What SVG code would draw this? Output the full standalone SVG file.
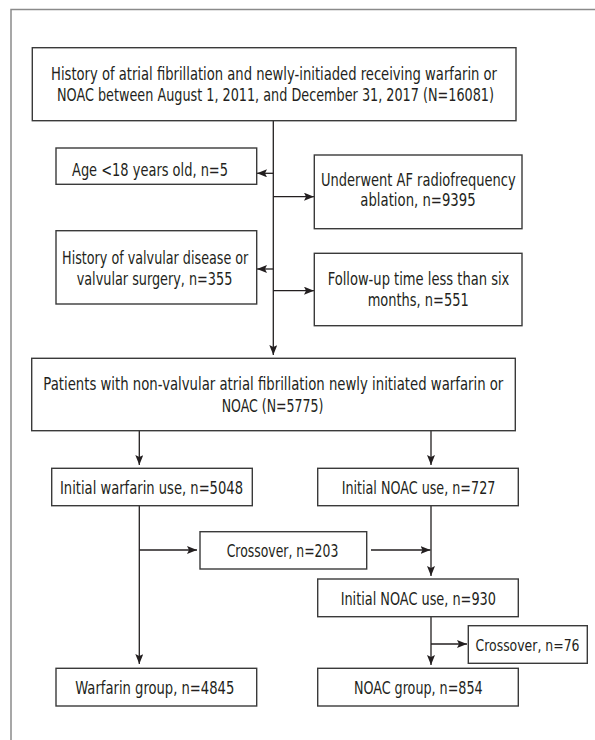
<svg xmlns="http://www.w3.org/2000/svg" width="595" height="740" viewBox="0 0 595 740">
<style>
  .frame { fill: none; stroke: #8a8a8a; stroke-width: 1.5; }
  .box { fill: #ffffff; stroke: #3a3a3a; stroke-width: 1.4; }
  .conn { fill: none; stroke: #231f20; stroke-width: 1.3; marker-end: url(#arrow); }
  text { font-family: "Liberation Sans Narrow", "DejaVu Sans Condensed", "Liberation Sans", sans-serif; font-size: 17.5px; fill: #231f20; text-anchor: middle; }
  .small { font-size: 16.5px; }
</style>
<defs>
  <marker id="arrow" viewBox="0 0 10 8" refX="10" refY="4" markerWidth="10" markerHeight="8" markerUnits="userSpaceOnUse" orient="auto">
    <path d="M0,0 L10,4 L0,8 L2,4 z" fill="#231f20"/>
  </marker>
</defs>
<rect class="frame" x="11" y="9.5" width="600" height="740"/>

<g id="connectors">
  <line class="conn" x1="273.3" y1="121" x2="273.3" y2="355"/>
  <line class="conn" x1="273.3" y1="173.3" x2="257" y2="173.3"/>
  <line class="conn" x1="273.3" y1="196.7" x2="314" y2="196.7"/>
  <line class="conn" x1="273.3" y1="269" x2="257" y2="269"/>
  <line class="conn" x1="273.3" y1="290.7" x2="314" y2="290.7"/>
  <line class="conn" x1="139.3" y1="430.7" x2="139.3" y2="465"/>
  <line class="conn" x1="431" y1="430.7" x2="431" y2="465"/>
  <line class="conn" x1="139.3" y1="505.7" x2="139.3" y2="664"/>
  <line class="conn" x1="139.3" y1="550" x2="197" y2="550"/>
  <line class="conn" x1="371" y1="550" x2="430.5" y2="550"/>
  <line class="conn" x1="431" y1="505.7" x2="431" y2="576"/>
  <line class="conn" x1="431" y1="616.7" x2="431" y2="665"/>
  <line class="conn" x1="431" y1="644" x2="467" y2="644"/>
</g>

<g id="n_start">
  <rect class="box" x="32.3" y="47.7" width="483.7" height="73"/>
  <text x="274" y="80" textLength="446" lengthAdjust="spacingAndGlyphs">History of atrial fibrillation and newly-initiaded receiving warfarin or</text>
  <text x="275.5" y="101" textLength="437" lengthAdjust="spacingAndGlyphs">NOAC between August 1, 2011, and December 31, 2017 (N=16081)</text>
</g>

<g id="n_age">
  <rect class="box" x="56" y="148" width="200.7" height="36.3"/>
  <text x="150" y="175.5" textLength="156" lengthAdjust="spacingAndGlyphs">Age &lt;18 years old, n=5</text>
</g>

<g id="n_ablation">
  <rect class="box" x="314.3" y="155" width="207.7" height="73.7"/>
  <text x="418.3" y="185.5" textLength="194.7" lengthAdjust="spacingAndGlyphs">Underwent AF radiofrequency</text>
  <text x="418" y="206" textLength="115.3" lengthAdjust="spacingAndGlyphs">ablation, n=9395</text>
</g>

<g id="n_valvular">
  <rect class="box" x="56" y="230.7" width="200.7" height="73.3"/>
  <text x="155.2" y="263.5" textLength="186.3" lengthAdjust="spacingAndGlyphs">History of valvular disease or</text>
  <text x="154.5" y="284.5" textLength="155.6" lengthAdjust="spacingAndGlyphs">valvular surgery, n=355</text>
</g>

<g id="n_followup">
  <rect class="box" x="314.3" y="253.3" width="207.7" height="72.4"/>
  <text x="418.5" y="284.5" textLength="181.7" lengthAdjust="spacingAndGlyphs">Follow-up time less than six</text>
  <text x="418.2" y="305.5" textLength="101" lengthAdjust="spacingAndGlyphs">months, n=551</text>
</g>

<g id="n_patients">
  <rect class="box" x="31.7" y="358.3" width="483.6" height="72.4"/>
  <text x="273.3" y="390" textLength="460" lengthAdjust="spacingAndGlyphs">Patients with non-valvular atrial fibrillation newly initiated warfarin or</text>
  <text x="272.5" y="411.5" textLength="101.7" lengthAdjust="spacingAndGlyphs">NOAC (N=5775)</text>
</g>

<g id="n_init_warfarin">
  <rect class="box" x="51.7" y="468.3" width="200.6" height="37.4"/>
  <text x="151.5" y="493.5" textLength="183" lengthAdjust="spacingAndGlyphs">Initial warfarin use, n=5048</text>
</g>

<g id="n_init_noac">
  <rect class="box" x="317.7" y="468.3" width="200.6" height="37.4"/>
  <text x="418.5" y="493.5" textLength="153.7" lengthAdjust="spacingAndGlyphs">Initial NOAC use, n=727</text>
</g>

<g id="n_crossover203">
  <rect class="box" x="200" y="531.7" width="166.7" height="37.3"/>
  <text x="282.5" y="557" textLength="111.6" lengthAdjust="spacingAndGlyphs">Crossover, n=203</text>
</g>

<g id="n_init_noac930">
  <rect class="box" x="317.7" y="579" width="200.6" height="37.7"/>
  <text x="418.3" y="604.5" textLength="155.3" lengthAdjust="spacingAndGlyphs">Initial NOAC use, n=930</text>
</g>

<g id="n_crossover76">
  <rect class="box" x="468.3" y="625.7" width="119" height="37.6"/>
  <text class="small" x="527.5" y="650.5" textLength="104" lengthAdjust="spacingAndGlyphs">Crossover, n=76</text>
</g>

<g id="n_warfarin_group">
  <rect class="box" x="56" y="668.3" width="200.7" height="37.7"/>
  <text x="154.8" y="693.5" textLength="159" lengthAdjust="spacingAndGlyphs">Warfarin group, n=4845</text>
</g>

<g id="n_noac_group">
  <rect class="box" x="317.7" y="668.3" width="200.6" height="37.7"/>
  <text x="418.3" y="693.5" textLength="128.7" lengthAdjust="spacingAndGlyphs">NOAC group, n=854</text>
</g>
</svg>
